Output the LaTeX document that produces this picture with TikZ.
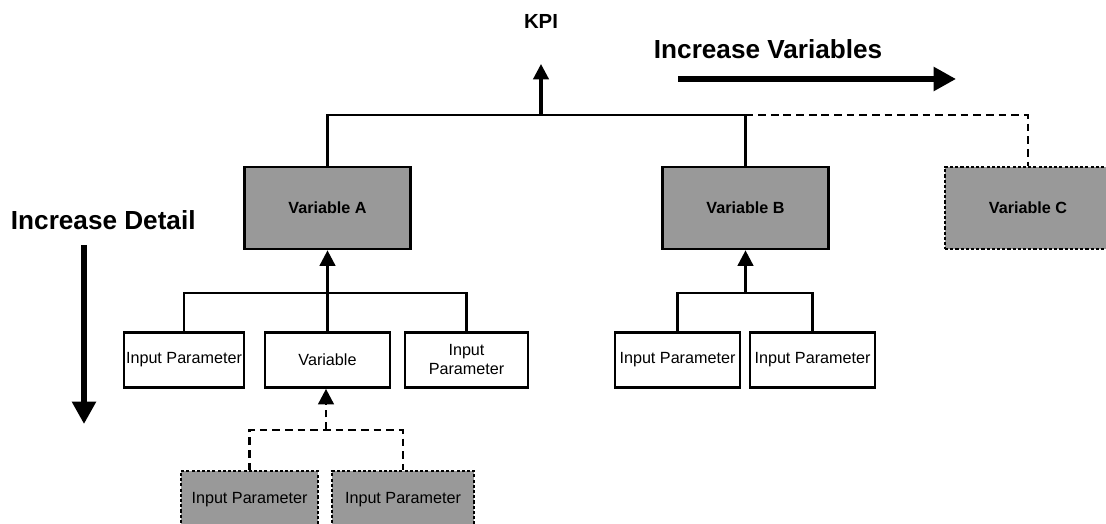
\documentclass[tikz,border=0pt]{standalone}
\usepackage{fontspec}
\setmainfont{Liberation Sans}
\usetikzlibrary{arrows.meta}
\definecolor{boxgrey}{HTML}{999999}

\begin{document}
\begin{tikzpicture}[x=0.025cm,y=-0.025cm]
                \tikzset{box/.style={draw, line width=1.9pt, fill=white, inner sep=0pt,
                        minimum height=55*0.025cm, font=\fontsize{11.5}{13.5}\selectfont, align=center},
                        varbox/.style={box, fill=boxgrey, minimum width=166*0.025cm, minimum height=82*0.025cm,
                        font=\fontsize{11.5}{13.5}\selectfont\bfseries},
                        newbox/.style={draw, fill=boxgrey, line width=0.9pt, dash pattern=on 2.2pt off 1.5pt},
                        link/.style={line width=1.9pt},
                        uplink/.style={link, -{Triangle[length=11pt, width=11pt]}},
                        newlink/.style={line width=1.9pt, dash pattern=on 5.5pt off 3.5pt},
                        bigarrow/.style={line width=3.8pt, -{Triangle[length=16pt, width=16.5pt]}},
                        bigtext/.style={font=\fontsize{18.6}{20}\selectfont\bfseries}}
                \path[use as bounding box, clip] (0,0) rectangle (1106,524);
                % KPI and direction labels
                \node[font=\fontsize{14.5}{16}\selectfont\bfseries] (KPI) at (541,21) {KPI};
                \node[bigtext, anchor=west] (incV) at (649,49) {Increase Variables};
                \node[bigtext, anchor=west] (incD) at (6,220) {Increase Detail};
                \coordinate (kpiTip) at (541,64);
                \coordinate (top) at (541,115);
                \coordinate (vStart) at (678,79);
                \coordinate (vEnd) at (956,79);
                \coordinate (dStart) at (84,245);
                \coordinate (dEnd) at (84,424);
                % variables
                \node[varbox] (VA) at (327.5,208) {Variable A};
                \node[varbox] (VB) at (745.5,208) {Variable B};
                \node[varbox, newbox] (VC) at (1028,208) {Variable C};
                % inputs of A
                \node[box, minimum width=120*0.025cm] (P1) at (184,360) {Input Parameter};
                \node[box, minimum width=125*0.025cm] (V1) at (327.5,360) {Variable};
                \node[box, minimum width=123*0.025cm] (P2) at (466.5,360) {Input\\Parameter};
                \coordinate (jA) at (327.5,293);
                % inputs of B
                \node[box, minimum width=125*0.025cm] (P3) at (677.5,360) {Input Parameter};
                \node[box, minimum width=125*0.025cm] (P4) at (812.5,360) {Input Parameter};
                \coordinate (jB) at (745.5,293);
                % inputs of the variable
                \node[box, newbox, minimum width=137*0.025cm, minimum height=57*0.025cm] (P5) at (249.5,499.5) {Input Parameter};
                \node[box, newbox, minimum width=142*0.025cm, minimum height=57*0.025cm] (P6) at (403,499.5) {Input Parameter};
                \coordinate (jV) at (326,430);

                \draw[uplink, line width=2.2pt] (top) -- (kpiTip);
                \draw[link] (VA.north) |- (top) -| (VB.north);
                \draw[newlink] (VB.north |- top) -| (VC.north);
                \draw[bigarrow] (vStart) -- (vEnd);
                \draw[bigarrow] (dStart) -- (dEnd);

                \draw[link] (P1.north) |- (jA) -| (P2.north);
                \draw[uplink] (V1.north) -- (VA.south);
                \draw[link] (P3.north) |- (jB) -| (P4.north);
                \draw[uplink] (jB) -- (VB.south);
                \draw[newlink] (P5.north) |- (jV) -| (P6.north);
                \draw[newlink, -{Triangle[length=11pt, width=11pt]}] (jV) -- (V1.south -| jV);

            \end{tikzpicture}
\end{document}
